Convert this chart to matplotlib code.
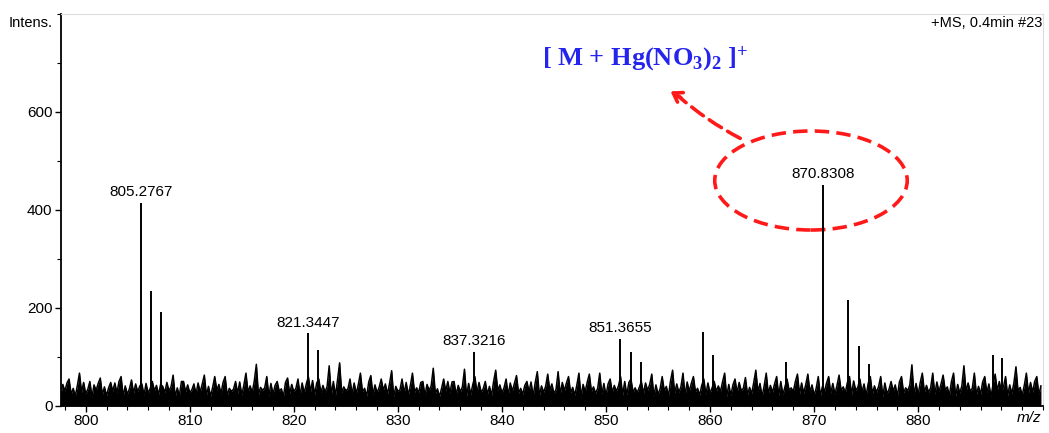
import numpy as np
import matplotlib
matplotlib.use('Agg')
import matplotlib.pyplot as plt
from matplotlib.patches import Ellipse
from matplotlib.ticker import MultipleLocator

plt.rcParams['font.family'] = ['Liberation Sans', 'DejaVu Sans']
plt.rcParams['mathtext.fontset'] = 'custom'
plt.rcParams['mathtext.rm'] = 'Liberation Serif:bold'
plt.rcParams['mathtext.it'] = 'Liberation Serif:bold'
plt.rcParams['mathtext.bf'] = 'Liberation Serif:bold'

# baseline noise, 5 points per m/z unit starting at 797.0
noise_start = 797.0
noise_step = 0.2
noise = [
    26, 40, 45, 22, 44,  30, 47, 55, 24, 36,  20, 42, 67, 28, 48,
    25, 34, 50, 18, 43,  32, 46, 57, 23, 39,  21, 37, 48, 30, 47,
    27, 50, 60, 20, 41,  24, 35, 53, 26, 45,  29, 41, 45, 22, 46,
    26, 36, 50, 31, 42,  23, 44, 40, 27, 48,  31, 39, 63, 19, 37,
    21, 50, 50, 29, 43,  27, 33, 45, 24, 47,  28, 45, 63, 22, 40,
    20, 38, 60, 32, 44,  25, 48, 60, 21, 36,  30, 34, 50, 26, 49,
    22, 43, 67, 28, 41,  27, 51, 85, 23, 38,  32, 37, 60, 20, 46,
    24, 42, 50, 30, 35,  19, 48, 57, 25, 44,  29, 36, 55, 21, 47,
    26, 45, 60, 29, 52,  23, 47, 55, 27, 42,  28, 40, 82, 22, 50,
    21, 53, 88, 27, 39,  31, 35, 55, 24, 47,  25, 44, 67, 29, 36,
    20, 49, 62, 23, 43,  27, 38, 55, 32, 45,  24, 46, 72, 19, 40,
    30, 33, 55, 26, 48,  22, 42, 67, 28, 37,  27, 48, 50, 21, 44,
    32, 41, 77, 25, 35,  19, 36, 55, 30, 50,  26, 49, 50, 23, 42,
    29, 39, 75, 20, 46,  23, 44, 60, 27, 48,  28, 35, 50, 24, 40,
    21, 50, 73, 31, 43,  27, 37, 55, 22, 47,  30, 46, 62, 26, 36,
    24, 42, 50, 29, 49,  20, 48, 70, 21, 41,  28, 40, 65, 32, 45,
    25, 34, 70, 23, 48,  31, 47, 60, 27, 38,  22, 43, 67, 19, 44,
    29, 49, 65, 30, 39,  26, 36, 67, 24, 46,  21, 45, 55, 28, 42,
    30, 41, 60, 22, 50,  23, 48, 55, 28, 37,  27, 38, 50, 25, 47,
    32, 44, 65, 20, 43,  24, 35, 60, 31, 40,  20, 51, 73, 26, 45,
    28, 39, 67, 21, 49,  30, 46, 60, 29, 36,  22, 42, 55, 24, 47,
    26, 37, 50, 30, 41,  29, 49, 67, 19, 44,  21, 43, 55, 27, 48,
    31, 36, 58, 23, 38,  25, 48, 73, 29, 46,  19, 41, 67, 25, 42,
    28, 45, 60, 21, 50,  23, 39, 55, 32, 37,  29, 50, 65, 24, 47,
    26, 44, 65, 28, 43,  22, 36, 60, 20, 40,  30, 47, 60, 26, 46,
    24, 42, 63, 31, 39,  27, 48, 60, 23, 51,  32, 38, 55, 28, 45,
    21, 46, 60, 25, 41,  28, 40, 60, 19, 47,  25, 34, 50, 30, 43,
    20, 49, 60, 27, 37,  31, 43, 84, 22, 46,  23, 48, 67, 28, 42,
    28, 37, 67, 24, 49,  29, 45, 63, 32, 39,  21, 50, 67, 20, 44,
    26, 41, 82, 29, 47,  30, 36, 67, 23, 40,  24, 49, 60, 27, 45,
    19, 44, 65, 31, 50,  29, 39, 60, 21, 43,  25, 47, 80, 30, 38,
    22, 42, 67, 26, 48,  28, 50, 60, 23, 41,
]

# resolved ion peaks
peak_mz = [805.2767, 806.28, 807.28, 821.3447, 822.35, 837.3216,
           851.3655, 852.37, 853.37, 859.30, 860.30, 867.30,
           870.8308, 873.30, 874.30, 875.25, 887.20, 888.10]
peak_int = [414, 235, 192, 148, 114, 110,
            137, 110, 90, 151, 104, 89,
            451, 216, 122, 86, 104, 97]

# peaks carrying an m/z label
label_mz = [805.2767, 821.3447, 837.3216, 851.3655, 870.8308]
label_txt = ['805.2767', '821.3447', '837.3216', '851.3655', '870.8308']

x_ticks = [800, 810, 820, 830, 840, 850, 860, 870, 880]
y_ticks = [0, 200, 400, 600]

fig = plt.figure(figsize=(10.49, 4.33), dpi=100)
ax = fig.add_axes([0.0579, 0.0624, 0.9364, 0.9056])

nx = noise_start + noise_step * np.arange(len(noise))
ax.fill_between(nx, 0, noise, color='black', lw=0)
ax.plot(nx, noise, color='black', lw=1.1)
ax.vlines(peak_mz, 0, peak_int, color='black', lw=1.4)

for mz, txt in zip(label_mz, label_txt):
    h = peak_int[peak_mz.index(mz)]
    ax.text(mz, h + 8, txt, ha='center', va='bottom', fontsize=11)

ax.set_xlim(797.6, 892.0)
ax.set_ylim(0, 800)
ax.set_xticks(x_ticks)
ax.xaxis.set_minor_locator(MultipleLocator(2))
ax.set_yticks(y_ticks)
ax.yaxis.set_minor_locator(MultipleLocator(100))
ax.tick_params(which='major', direction='out', length=4, width=1, labelsize=11, pad=2)
ax.tick_params(which='minor', direction='out', length=3, width=0.8)

for side in ['left', 'bottom']:
    ax.spines[side].set_linewidth(1.3)
for side in ['top', 'right']:
    ax.spines[side].set_color('#dddddd')
    ax.spines[side].set_linewidth(0.8)

fig.text(0.008, 0.947, 'Intens.', fontsize=10.5, va='center', ha='left')
fig.text(0.994, 0.947, '+MS, 0.4min #23', fontsize=10.5, va='center', ha='right')
fig.text(0.993, 0.018, 'm/z', fontsize=11, style='italic', va='bottom', ha='right')

# highlight of the mercury adduct
ell = Ellipse((869.7, 460), 18.5, 202, fill=False, edgecolor='#ff1a1a',
              lw=2.6, linestyle=(0, (4, 2)), clip_on=False)
ax.add_patch(ell)
ax.annotate('', xy=(856.9, 633), xytext=(862.9, 546),
            arrowprops=dict(arrowstyle='-', color='#ff1a1a', lw=2.6,
                            linestyle=(0, (4, 2)),
                            connectionstyle='arc3,rad=-0.06', shrinkA=0, shrinkB=0))
ax.annotate('', xy=(856.2, 642), xytext=(857.2, 629),
            arrowprops=dict(arrowstyle='->,head_length=0.6,head_width=0.4',
                            color='#ff1a1a', lw=2.6, shrinkA=0, shrinkB=0))
ax.text(853.8, 708, r'[ M + Hg(NO$_{3}$)$_{2}$ ]$^{+}$', color='#2424ee',
        fontsize=19, fontweight='bold', family='Liberation Serif',
        ha='center', va='center')

fig.savefig('out.png', dpi=100)
